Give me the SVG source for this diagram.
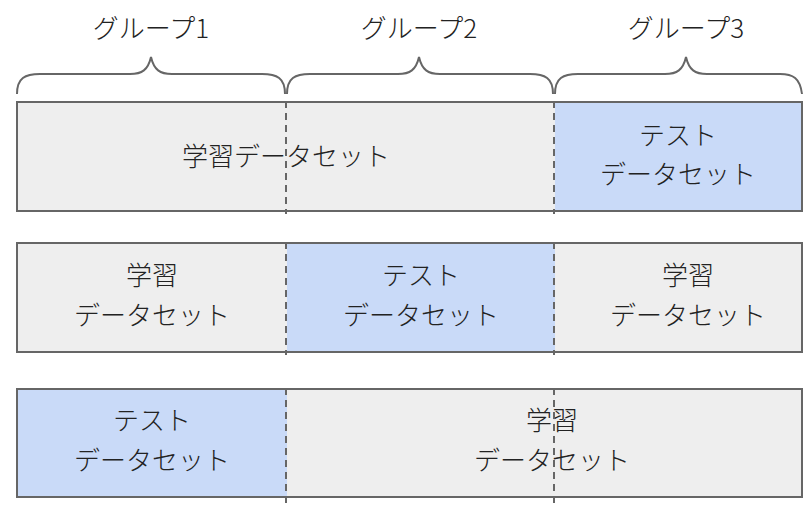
<svg xmlns="http://www.w3.org/2000/svg" width="811" height="507" viewBox="0 0 811 507">
<style>
.g{fill:#eeeeee;stroke:#666;stroke-width:2}
.b{fill:#c9daf8;stroke:none}
.d{stroke:#666;stroke-width:2;stroke-dasharray:7,5;fill:none}
.br{fill:none;stroke:#666;stroke-width:2}
text{font-family:"Noto Sans CJK JP","Liberation Sans",sans-serif;font-size:26px;fill:#222;text-anchor:middle;font-weight:300}
</style>
<rect width="811" height="507" fill="#fff"/>
<g id="braces">
<path class="br" d="M17,94 C17,78 25,74 40,74 L130,74 C142,74 148,70 151,57 C154,70 160,74 172,74 L262,74 C277,74 285,78 285,94"/>
<path class="br" d="M287,94 C287,78 295,74 310,74 L398,74 C410,74 416,70 419,57 C422,70 428,74 440,74 L530,74 C545,74 553,78 553,94"/>
<path class="br" d="M555,94 C555,78 563,74 578,74 L665,74 C677,74 683,70 686,57 C689,70 695,74 707,74 L780,74 C793,74 800,78 802,94"/>
<text x="151" y="38">グループ1</text>
<text x="419" y="38">グループ2</text>
<text x="686" y="38">グループ3</text>
</g>
<g id="row1">
<rect class="g" x="17" y="102" width="785" height="109"/>
<rect class="b" x="555" y="103" width="246" height="107"/>
<text x="286" y="166">学習データセット</text>
<text x="678" y="145">テスト</text>
<text x="678" y="184">データセット</text>
</g>
<g id="row2">
<rect class="g" x="17" y="243" width="785" height="109"/>
<rect class="b" x="287" y="244" width="268" height="107"/>
<text x="152" y="285">学習</text>
<text x="152" y="325">データセット</text>
<text x="421" y="285">テスト</text>
<text x="421" y="325">データセット</text>
<text x="688" y="285">学習</text>
<text x="688" y="325">データセット</text>
</g>
<g id="row3">
<rect class="g" x="17" y="389" width="785" height="108"/>
<rect class="b" x="18" y="390" width="269" height="106"/>
<text x="152" y="430">テスト</text>
<text x="152" y="470">データセット</text>
<text x="552" y="430">学習</text>
<text x="552" y="470">データセット</text>
</g>
<g id="connectors">
<line class="d" x1="286" y1="101" x2="286" y2="214"/>
<line class="d" x1="554" y1="101" x2="554" y2="214"/>
<line class="d" x1="286" y1="242" x2="286" y2="355"/>
<line class="d" x1="554" y1="242" x2="554" y2="355"/>
<line class="d" x1="286" y1="388" x2="286" y2="507"/>
<line class="d" x1="554" y1="388" x2="554" y2="507"/>
</g>
</svg>
